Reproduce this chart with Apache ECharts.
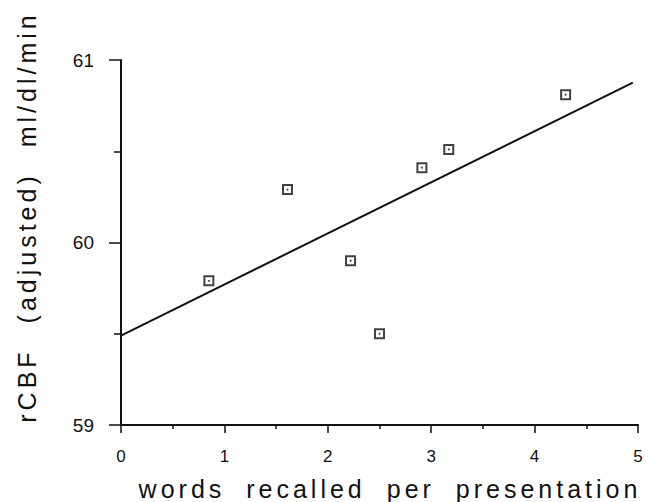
<!DOCTYPE html>
<html>
<head>
<meta charset="utf-8">
<script src="https://cdn.jsdelivr.net/npm/echarts@6/dist/echarts.min.js"></script>
<style>
	html, body { margin: 0; padding: 0; background: #fff; }
	#chart { width: 649px; height: 502px; }
</style>
</head>
<body>
<div id="chart"></div>
<script>
// words recalled per presentation vs rCBF
const wordsX = [0.85, 1.61, 2.22, 2.5, 2.91, 3.17, 4.3]
const rcbfY = [59.79, 60.29, 59.9, 59.5, 60.41, 60.51, 60.81]
// regression line ends, as drawn
const fitX = [0, 4.95]
const fitY = [59.49, 60.876]

const xTicks = [0, 1, 2, 3, 4, 5]
const yTicks = [59, 60, 61]

const xTitle = 'words recalled per presentation'
const yTitle = 'rCBF (adjusted) ml/dl/min'

const font = 'Liberation Sans, Arial, Helvetica, sans-serif'
const ink = '#111'

const points = wordsX.map((x, i) => [x, rcbfY[i]])
const fitLine = fitX.map((x, i) => [x, fitY[i]])

const chart = echarts.init(document.getElementById('chart'), null, { renderer: 'svg' })

chart.setOption({
	backgroundColor: '#fff',
	animation: false,
	grid: { left: 121, right: 11, top: 60, bottom: 77 },
	xAxis: {
		type: 'value',
		min: xTicks[0],
		max: xTicks[xTicks.length - 1],
		interval: 1,
		axisLine: { onZero: false, lineStyle: { color: ink, width: 2 } },
		axisTick: { length: 8, lineStyle: { color: ink, width: 1.5 } },
		minorTick: { show: true, splitNumber: 2, length: 4, lineStyle: { color: ink, width: 1.5 } },
		axisLabel: { margin: 23, fontFamily: font, fontSize: 17, color: ink },
		splitLine: { show: false }
	},
	yAxis: {
		type: 'value',
		min: yTicks[0],
		max: yTicks[yTicks.length - 1],
		interval: 1,
		axisLine: { onZero: false, lineStyle: { color: ink, width: 2 } },
		axisTick: { length: 12, lineStyle: { color: ink, width: 1.5 } },
		minorTick: { show: true, splitNumber: 2, length: 7, lineStyle: { color: ink, width: 1.5 } },
		axisLabel: { margin: 27, fontFamily: font, fontSize: 19, color: ink },
		splitLine: { show: false }
	},
	graphic: [{
		type: 'text',
		x: 390,
		y: 489,
		style: {
			text: xTitle,
			fontFamily: font,
			fontSize: 25,
			fill: ink,
			align: 'center',
			verticalAlign: 'middle'
		}
	}, {
		type: 'text',
		x: 27,
		y: 217,
		rotation: Math.PI / 2,
		style: {
			text: yTitle,
			fontFamily: font,
			fontSize: 25,
			fill: ink,
			align: 'center',
			verticalAlign: 'middle'
		}
	}],
	series: [{
		type: 'line',
		data: fitLine,
		symbol: 'none',
		lineStyle: { color: ink, width: 2 },
		z: 1
	}, {
		type: 'scatter',
		data: points,
		symbol: 'rect',
		symbolSize: 9,
		itemStyle: { color: '#fff', borderColor: ink, borderWidth: 2 },
		z: 2
	}, {
		type: 'scatter',
		data: points,
		symbol: 'circle',
		symbolSize: 2,
		itemStyle: { color: ink },
		z: 3
	}]
})

// the old typeset titles are widely spaced
function spaceTitles() {
	document.querySelectorAll('#chart svg text').forEach(t => {
		if (t.textContent === xTitle) {
			t.setAttribute('letter-spacing', '4')
			t.setAttribute('word-spacing', '10')
		} else if (t.textContent === yTitle) {
			t.setAttribute('letter-spacing', '4')
			t.setAttribute('word-spacing', '14')
		}
	})
}
chart.on('finished', spaceTitles)
spaceTitles()
</script>
</body>
</html>
